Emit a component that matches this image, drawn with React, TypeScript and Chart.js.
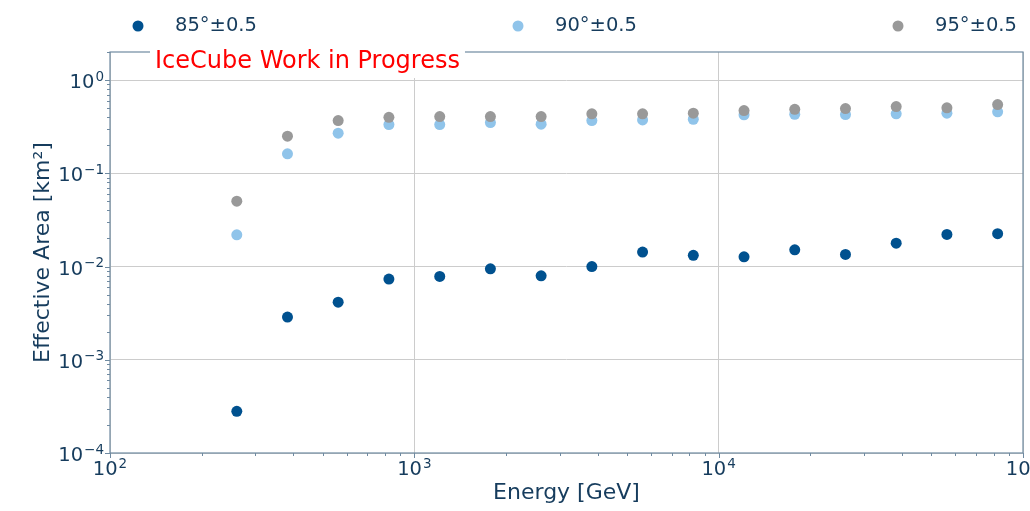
import React, { useEffect, useRef } from "react";
import { Chart, registerables } from "chart.js";

Chart.register(...registerables);

// ---- data ----
const energies = [261, 383, 562, 825, 1212, 1778, 2610, 3831, 5623, 8254, 12115, 17783, 26102, 38312, 56234, 82540];
const area85 = [2.8e-4, 2.87e-3, 4.15e-3, 7.33e-3, 7.83e-3, 9.46e-3, 7.96e-3, 1.0e-2, 1.43e-2, 1.32e-2, 1.27e-2, 1.51e-2, 1.35e-2, 1.78e-2, 2.21e-2, 2.25e-2];
const area90 = [0.0219, 0.162, 0.269, 0.333, 0.333, 0.35, 0.336, 0.368, 0.374, 0.38, 0.424, 0.43, 0.427, 0.434, 0.441, 0.456];
const area95 = [0.0502, 0.25, 0.368, 0.399, 0.406, 0.406, 0.406, 0.434, 0.434, 0.441, 0.471, 0.486, 0.495, 0.52, 0.504, 0.546];
const seriesLabels = ["85°±0.5", "90°±0.5", "95°±0.5"];
const xDecades = [2, 3, 4, 5];
const yDecades = [-4, -3, -2, -1, 0];
const xTitle = "Energy [GeV]";
const yTitle = "Effective Area [km²]";
const watermark = "IceCube Work in Progress";

const COLORS = ["#00518f", "#90c4ea", "#999999"];
const TEXT = "#163c5d";
const SPINE = "#6f8aa1";
const FONT = '"DejaVu Sans", sans-serif';

function drawPow(ctx: CanvasRenderingContext2D, exp: number, x: number, cy: number, align: "right" | "center") {
  const baseSize = 19.5;
  const expSize = 13.5;
  const expStr = exp < 0 ? "\u2212" + Math.abs(exp) : String(exp);
  ctx.font = `${baseSize}px ${FONT}`;
  const bw = ctx.measureText("10").width;
  ctx.font = `${expSize}px ${FONT}`;
  const ew = ctx.measureText(expStr).width;
  const total = bw + 1 + ew;
  const start = align === "right" ? x - total : x - total / 2;
  const baseline = cy + 7;
  ctx.textAlign = "left";
  ctx.textBaseline = "alphabetic";
  ctx.fillStyle = TEXT;
  ctx.font = `${baseSize}px ${FONT}`;
  ctx.fillText("10", start, baseline);
  ctx.font = `${expSize}px ${FONT}`;
  ctx.fillText(expStr, start + bw + 1, baseline - 7.5);
}

const decorPlugin = {
  id: "decor",
  afterDraw(chart: any) {
    const ctx: CanvasRenderingContext2D = chart.ctx;
    const { left, right, top, bottom } = chart.chartArea;
    const xs = chart.scales.x;
    const ys = chart.scales.y;
    ctx.save();

    // spines
    ctx.strokeStyle = SPINE;
    ctx.lineWidth = 1.2;
    ctx.strokeRect(left, top, right - left, bottom - top);

    // ticks (major + minor)
    ctx.lineWidth = 1;
    ctx.beginPath();
    for (const e of xDecades) {
      for (let m = 1; m <= 9; m++) {
        const v = m * Math.pow(10, e);
        if (v < xs.min - 1e-9 || v > xs.max * (1 + 1e-9)) continue;
        const px = Math.round(xs.getPixelForValue(v)) + 0.5;
        const len = m === 1 ? 5 : 3;
        ctx.moveTo(px, bottom);
        ctx.lineTo(px, bottom + len);
      }
    }
    for (const e of yDecades) {
      for (let m = 1; m <= 9; m++) {
        const v = m * Math.pow(10, e);
        if (v < ys.min * (1 - 1e-9) || v > ys.max) continue;
        const py = Math.round(ys.getPixelForValue(v)) + 0.5;
        const len = m === 1 ? 5 : 3;
        ctx.moveTo(left, py);
        ctx.lineTo(left - len, py);
      }
    }
    ctx.stroke();

    // tick labels
    for (const e of xDecades) {
      const px = xs.getPixelForValue(Math.pow(10, e));
      drawPow(ctx, e, px, bottom + 15, "center");
    }
    for (const e of yDecades) {
      const py = ys.getPixelForValue(Math.pow(10, e));
      drawPow(ctx, e, left - 6, py + 1, "right");
    }

    // axis titles
    ctx.fillStyle = TEXT;
    ctx.font = `22px ${FONT}`;
    ctx.textAlign = "center";
    ctx.textBaseline = "middle";
    ctx.fillText(xTitle, (left + right) / 2, 493);
    ctx.save();
    ctx.translate(43, (top + bottom) / 2);
    ctx.rotate(-Math.PI / 2);
    ctx.fillText(yTitle, 0, 0);
    ctx.restore();

    // legend
    const ds = chart.data.datasets;
    ctx.font = `19.5px ${FONT}`;
    ctx.textAlign = "left";
    ctx.textBaseline = "middle";
    ds.forEach((d: any, i: number) => {
      const mx = 138 + i * 380;
      ctx.fillStyle = d.backgroundColor;
      ctx.beginPath();
      ctx.arc(mx, 26, 5.5, 0, Math.PI * 2);
      ctx.fill();
      ctx.fillStyle = TEXT;
      ctx.fillText(d.label, mx + 37, 26);
    });

    // watermark
    ctx.font = `24px ${FONT}`;
    const tw = ctx.measureText(watermark).width;
    const tx = 155;
    ctx.fillStyle = "#ffffff";
    ctx.fillRect(tx - 5, 40, tw + 10, 38);
    ctx.fillStyle = "#ff0000";
    ctx.textBaseline = "middle";
    ctx.fillText(watermark, tx, 62);

    ctx.restore();
  },
};

export default function App() {
  const ref = useRef<HTMLCanvasElement | null>(null);
  useEffect(() => {
    if (!ref.current) return;
    const mk = (i: number, vals: number[], order: number) => ({
      label: seriesLabels[i],
      data: energies.map((x, k) => ({ x, y: vals[k] })),
      backgroundColor: COLORS[i],
      borderColor: COLORS[i],
      pointRadius: 5.5,
      pointHoverRadius: 5.5,
      pointBorderWidth: 0,
      order,
    });
    const chart = new Chart(ref.current, {
      type: "scatter",
      data: { datasets: [mk(0, area85, 3), mk(1, area90, 2), mk(2, area95, 1)] as any },
      options: {
        animation: false,
        responsive: true,
        maintainAspectRatio: false,
        layout: { padding: { top: 52, right: 7, left: 0, bottom: 0 } },
        plugins: { legend: { display: false }, tooltip: { enabled: false } },
        scales: {
          x: {
            type: "logarithmic",
            min: 100,
            max: 100000,
            ticks: { display: false },
            border: { display: false },
            grid: { color: "#cccccc", lineWidth: 1, drawTicks: false },
            afterBuildTicks: (s: any) => {
              s.ticks = xDecades.map((e) => ({ value: Math.pow(10, e) }));
            },
            afterFit: (s: any) => {
              s.height = 58;
            },
          },
          y: {
            type: "logarithmic",
            min: 1e-4,
            max: 2,
            ticks: { display: false },
            border: { display: false },
            grid: { color: "#cccccc", lineWidth: 1, drawTicks: false },
            afterBuildTicks: (s: any) => {
              s.ticks = yDecades.map((e) => ({ value: Math.pow(10, e) }));
            },
            afterFit: (s: any) => {
              s.width = 110;
            },
          },
        },
      } as any,
      plugins: [decorPlugin],
    });
    return () => chart.destroy();
  }, []);
  return (
    <div style={{ position: "absolute", left: 0, top: 0, width: 1030, height: 511 }}>
      <canvas ref={ref} />
    </div>
  );
}
